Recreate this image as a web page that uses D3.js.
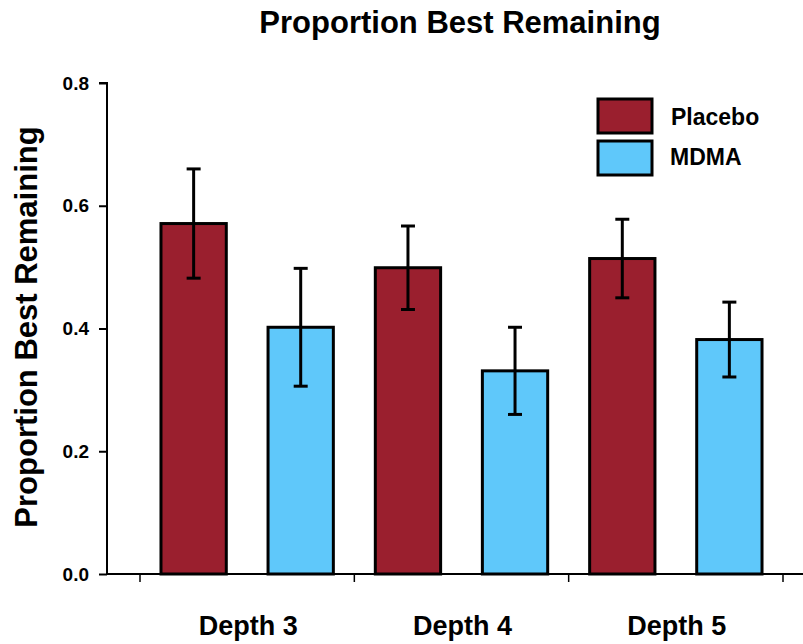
<!DOCTYPE html>
<html><head><meta charset="utf-8">
<script src="https://cdn.jsdelivr.net/npm/d3@7"></script>
<style>body{margin:0;background:#fff}svg{display:block}text{font-family:"Liberation Sans",Arial,sans-serif;font-weight:bold}</style>
</head><body>
<script>
const categories = ["Depth 3", "Depth 4", "Depth 5"];
const seriesNames = ["Placebo", "MDMA"];
const placebo = [0.571, 0.499, 0.514];
const mdma = [0.402, 0.331, 0.382];
const placeboErr = [0.089, 0.068, 0.064];
const mdmaErr = [0.096, 0.071, 0.061];
const yTicks = [0.0, 0.2, 0.4, 0.6, 0.8];
const colors = ["#9A1F2E", "#5FC8FA"];

const W = 803, H = 644;
const svg = d3.select("body").append("svg").attr("width", W).attr("height", H);

const y = d3.scaleLinear().domain([0, 0.8]).range([574, 83]);
const x = d3.scaleBand().domain(categories).range([140, 783]).paddingInner(0).paddingOuter(0);
const xs = d3.scaleBand().domain(seriesNames).range([0, x.bandwidth()]).paddingInner(0.39).paddingOuter(0.196);

const data = [];
categories.forEach((c, i) => {
  data.push({cat: c, s: "Placebo", v: placebo[i], e: placeboErr[i], col: colors[0]});
  data.push({cat: c, s: "MDMA", v: mdma[i], e: mdmaErr[i], col: colors[1]});
});

// bars
svg.append("g").selectAll("rect").data(data).join("rect")
  .attr("x", d => x(d.cat) + xs(d.s))
  .attr("y", d => y(d.v))
  .attr("width", xs.bandwidth())
  .attr("height", d => y(0) - y(d.v))
  .attr("fill", d => d.col)
  .attr("stroke", "#000").attr("stroke-width", 3);

// error bars
const eg = svg.append("g").attr("stroke", "#000").attr("stroke-width", 3);
data.forEach(d => {
  const cx = x(d.cat) + xs(d.s) + xs.bandwidth() / 2;
  eg.append("line").attr("x1", cx).attr("x2", cx).attr("y1", y(d.v + d.e)).attr("y2", y(d.v - d.e));
  eg.append("line").attr("x1", cx - 7).attr("x2", cx + 7).attr("y1", y(d.v + d.e)).attr("y2", y(d.v + d.e));
  eg.append("line").attr("x1", cx - 7).attr("x2", cx + 7).attr("y1", y(d.v - d.e)).attr("y2", y(d.v - d.e));
});

// y axis
const yAxis = svg.append("g").attr("transform", "translate(107,0)")
  .call(d3.axisLeft(y).tickValues(yTicks).tickFormat(d3.format(".1f")).tickSize(8).tickPadding(10));
yAxis.select(".domain").attr("stroke-width", 2).attr("d", `M-8,${y(0.8)}H0V${y(0)}`);
yAxis.selectAll(".tick line").attr("stroke-width", 2);
yAxis.selectAll(".tick text").attr("font-size", 19).attr("font-weight", "bold").attr("font-family", '"Liberation Sans",Arial,sans-serif').attr("fill", "#000");

// x axis
svg.append("line").attr("x1", 106).attr("x2", 803).attr("y1", y(0)).attr("y2", y(0)).attr("stroke", "#000").attr("stroke-width", 2);
const edges = categories.map(c => x(c)).concat([x(categories[categories.length - 1]) + x.bandwidth()]);
svg.append("g").selectAll("line").data(edges).join("line")
  .attr("x1", d => d).attr("x2", d => d).attr("y1", y(0)).attr("y2", y(0) + 8)
  .attr("stroke", "#000").attr("stroke-width", 1.5);
svg.append("g").selectAll("text").data(categories).join("text")
  .attr("x", d => x(d) + x.bandwidth() / 2 + 1).attr("y", 635)
  .attr("text-anchor", "middle").attr("font-size", 27).text(d => d);

// title
svg.append("text").attr("x", 460).attr("y", 33).attr("text-anchor", "middle").attr("font-size", 31).text("Proportion Best Remaining");
svg.append("text").attr("transform", "translate(37,327) rotate(-90)").attr("text-anchor", "middle").attr("font-size", 31).text("Proportion Best Remaining");

// legend
const lg = svg.append("g");
seriesNames.forEach((s, i) => {
  lg.append("rect").attr("x", 598).attr("y", 99 + i * 42).attr("width", 54).attr("height", 34)
    .attr("fill", colors[i]).attr("stroke", "#000").attr("stroke-width", 3);
  lg.append("text").attr("x", i === 0 ? 671 : 670).attr("y", 125 + i * 40).attr("font-size", 23).text(s);
});
</script>
</body></html>
